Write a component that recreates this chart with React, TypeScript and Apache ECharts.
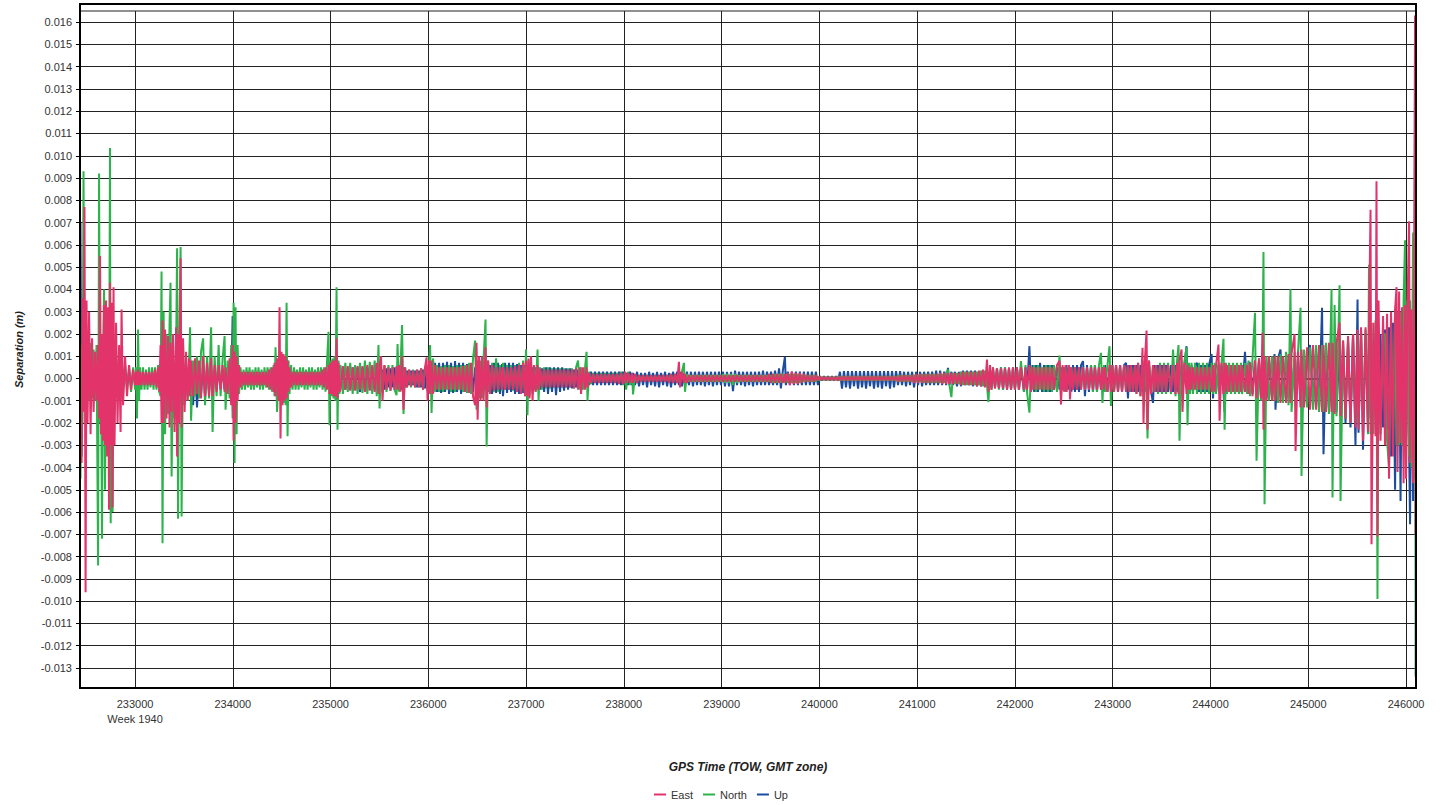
import React, { useEffect, useRef } from "react";
import * as echarts from "echarts";

// Epoch rows: [GPS time of week (s), East (mm), North (mm), Up (mm)]
const START_BURST: number[][] = [
  [232442, 1.5, -4.5, 7.0], [232453, -3.8, 1.0, -3.5], [232463, 3.6, -2.0, 1.5], [232473, -1.5, 9.3, -0.5],
  [232483, 7.7, -1.0, 0.8], [232494, -9.6, 1.5, -0.6], [232504, 3.5, -0.8, 0.5], [232514, -2.0, 1.2, -0.8],
  [232530, 3.0, -1.0, 0.6], [232545, -2.5, 1.6, -0.7], [232560, 1.8, -0.9, 0.5], [232576, -1.5, 1.3, -0.5],
  [232591, 1.2, -1.0, 0.9], [232606, -1.0, 1.5, -0.6], [232622, 1.5, -8.4, 0.4], [232632, -1.8, 9.2, -0.8],
  [232642, 5.5, -2.0, 0.6], [232652, -2.5, 1.0, -0.5], [232662, 2.0, -7.2, 1.0], [232673, -2.8, 1.2, -0.8],
  [232683, 3.3, 4.0, 0.6], [232693, -3.0, -5.0, -1.0], [232703, 3.5, 1.5, 2.2], [232714, -3.5, -1.5, -1.0],
  [232724, 3.2, 2.0, 0.8], [232734, -5.9, -2.0, -1.2], [232744, 4.3, 10.35, 0.9], [232751, -3.0, -6.5, -0.9],
  [232759, 3.4, 1.0, 0.7], [232770, -5.8, -6.0, -1.0], [232780, 4.1, 1.0, 0.8], [232790, -3.0, -1.2, -0.6],
  [232806, 2.5, 1.2, 0.6], [232821, -2.0, -0.9, -0.5], [232837, 1.5, 1.0, 0.5], [232852, -2.4, -0.8, -0.4],
  [232862, 3.1, 0.9, 0.4], [232877, -1.2, -0.7, -0.4], [232898, 1.0, 0.6, 0.3], [232918, -0.8, -0.5, -0.3],
  [232939, 0.6, 0.5, 0.3], [232959, -0.5, -0.6, -0.3], [232980, 0.4, 0.5, 0.2],
];

const QUIET_1: number[][] = [
  [233000, -0.3, -0.5, -0.2], [233010, 0.3, 0.5, 0.3], [233020, -0.3, -1.8, -0.2], [233031, 0.4, 2.2, 0.2],
  [233041, -0.3, -1.0, -0.2], [233051, 0.3, 0.5, 0.3], [233066, -0.3, -0.5, -0.3], [233081, 0.3, 0.5, 0.2],
  [233097, -0.3, -0.5, -0.2], [233112, 0.3, 0.4, 0.3], [233128, -0.3, -0.5, -0.2], [233143, 0.3, 0.5, 0.2],
  [233158, -0.3, -0.4, -0.3], [233174, 0.3, 0.5, 0.2], [233189, -0.3, -0.5, -0.2], [233204, 0.4, 0.5, 0.3],
  [233220, -0.4, -0.5, -0.2], [233235, 0.5, 0.6, 0.3], [233248, -0.6, -0.6, -0.3],
];

const BURST_2: number[][] = [
  [233261, 1.5, -0.8, 0.4], [233271, -2.0, 4.8, -0.6], [233281, 2.6, -7.4, 0.8], [233292, -2.0, 3.0, -0.7],
  [233307, 2.2, -2.5, 0.9], [233322, -1.8, 2.0, -0.8], [233338, 1.9, -1.6, 0.7], [233353, -2.2, 2.5, -1.0],
  [233363, 1.6, 4.3, 1.6], [233374, -1.5, -4.4, -0.8], [233389, 2.0, 1.5, 0.7], [233404, -2.4, -1.8, -0.9],
  [233420, 2.3, 1.2, 1.0], [233430, -3.5, 5.85, -0.9], [233440, 2.0, -6.3, 0.8], [233450, -2.0, 1.0, -1.0],
  [233466, 5.4, 5.9, 0.6], [233476, -2.2, -6.2, -0.8], [233491, 1.8, 1.5, 0.7], [233507, -1.5, -1.2, -1.0],
  [233522, 1.2, 0.9, 0.6], [233537, -1.0, -1.0, -0.8], [233553, 0.9, 0.8, 0.5], [233563, -0.8, 2.3, -0.6],
  [233573, 0.8, -1.9, 0.5], [233594, -0.8, 0.8, -1.2], [233614, 0.9, -0.8, 0.6], [233634, -0.7, 1.0, -1.3],
  [233655, 0.8, -0.9, 0.5], [233675, -0.9, 1.2, -0.7], [233696, 1.0, 1.8, 0.6], [233716, -0.8, -1.2, -0.9],
  [233737, 0.7, 1.0, 0.5], [233757, -0.8, -0.9, -0.6], [233778, 0.9, 2.3, 0.5], [233793, -0.8, -2.4, -0.6],
  [233814, 0.6, 1.0, 0.4], [233834, -0.6, -0.8, -0.5], [233855, 0.6, 1.5, 0.4], [233875, -0.5, -0.8, -0.4],
  [233896, 0.6, 0.9, 0.4], [233916, -0.6, 1.9, -0.5], [233926, 0.5, -1.4, 0.3], [233947, -0.7, 0.8, -0.5],
  [233967, 0.9, -0.9, 0.6], [233983, -1.2, 1.5, -0.8], [233998, 1.5, -1.8, 2.8], [234008, -2.8, 3.4, -1.0],
  [234018, 1.2, -3.8, 1.2], [234028, -2.0, 3.2, -0.8], [234039, 1.0, -2.5, 0.7], [234049, -1.0, 1.5, -0.5],
  [234064, 0.6, -0.7, 0.4],
];

const QUIET_2: number[][] = [
  [234079, -0.4, 0.5, -0.2], [234094, 0.3, -0.5, 0.2], [234110, -0.3, 0.4, -0.3], [234125, 0.3, -0.5, 0.2],
  [234140, -0.3, 0.5, -0.2], [234156, 0.3, -0.4, 0.3], [234171, -0.3, 0.5, -0.2], [234186, 0.3, -0.5, 0.2],
  [234202, -0.3, 0.4, -0.3], [234217, 0.3, -0.5, 0.2], [234232, -0.3, 0.5, -0.2], [234248, 0.3, -0.4, 0.3],
  [234263, -0.3, 0.5, -0.2], [234278, 0.3, -0.5, 0.2], [234294, -0.3, 0.4, -0.3], [234309, 0.3, -0.5, 0.2],
  [234324, -0.3, 0.5, -0.2], [234340, 0.3, -0.4, 0.3], [234355, -0.4, 0.5, -0.2], [234370, 0.4, -0.5, 0.2],
  [234386, -0.5, 0.5, -0.3], [234401, 0.5, -0.6, 0.3], [234417, -0.6, 0.6, -0.3], [234427, 0.7, -0.8, 0.3],
  [234437, -0.8, 1.4, -0.3], [234453, 0.9, -1.5, 0.4], [234468, -1.0, 0.8, -0.4], [234478, 3.2, -0.8, 0.5],
  [234488, -2.7, 0.9, -0.5], [234498, 1.2, -1.0, 0.4], [234509, -1.2, 1.0, -0.6], [234519, 1.1, -1.1, 0.5],
  [234529, -1.0, 1.0, -0.5], [234540, 1.0, -1.2, 0.5], [234550, -0.9, 3.4, -0.4], [234560, 0.8, -2.6, 0.4],
  [234570, -0.6, 0.8, -0.3], [234580, 0.5, -0.7, 0.3], [234596, -0.4, 0.6, -0.2], [234611, 0.3, -0.5, 0.2],
  [234627, -0.3, 0.5, -0.2], [234642, 0.3, -0.5, 0.3], [234657, -0.3, 0.4, -0.2], [234673, 0.3, -0.5, 0.2],
  [234688, -0.3, 0.5, -0.3], [234703, 0.3, -0.4, 0.2], [234719, -0.3, 0.5, -0.2], [234734, 0.3, -0.5, 0.3],
  [234749, -0.3, 0.4, -0.2], [234765, 0.3, -0.5, 0.2], [234780, -0.3, 0.5, -0.3], [234795, 0.3, -0.4, 0.2],
  [234810, -0.3, 0.5, -0.2], [234826, 0.3, -0.5, 0.3], [234841, -0.3, 0.4, -0.2], [234857, 0.3, -0.5, 0.2],
  [234872, -0.3, 0.5, -0.3], [234887, 0.3, -0.4, 0.2], [234902, -0.3, 0.5, -0.2], [234918, 0.4, -0.5, 0.3],
  [234933, -0.4, 0.5, -0.3], [234948, 0.5, -0.6, 0.3], [234963, -0.5, 0.7, -0.3], [234979, 0.6, 2.1, 0.3],
  [234989, -0.7, -2.1, -0.4], [234999, 0.7, 0.8, 0.4], [235009, -0.7, -0.8, -0.4], [235020, 0.8, 0.9, 0.4],
  [235030, -0.8, -0.9, -0.4], [235040, 0.8, 1.0, 0.5], [235050, -0.8, -1.0, -0.5], [235061, 1.8, 4.1, 0.5],
  [235071, -0.9, -2.3, -0.4], [235081, 0.7, 0.8, 0.4], [235091, -0.6, -0.7, -0.3],
];

const MIDDLE_1: number[][] = [
  [235101, -0.5, 0.6, -0.4], [235126, 0.55, -0.7, 0.5], [235151, -0.5, 0.7, -0.5], [235176, 0.55, -0.6, 0.45],
  [235201, -0.55, 0.7, -0.5], [235226, 0.5, -0.7, 0.5], [235251, -0.55, 0.6, -0.45], [235276, 0.55, -0.7, 0.5],
  [235301, -0.5, 0.7, -0.6], [235326, 0.55, -0.65, 0.5], [235351, -0.6, 0.8, -0.45], [235376, 0.6, -0.7, 0.5],
  [235401, -0.55, 0.75, -0.5], [235426, 0.6, -0.7, 0.45], [235451, -0.6, 0.8, -0.5], [235472, 0.7, -0.8, 0.45],
  [235490, -0.7, 1.5, -0.4], [235501, 0.6, -1.35, 0.5], [235516, 1.0, 0.6, -0.5], [235531, -1.0, -0.6, 0.4],
  [235551, 0.6, 0.6, -0.5], [235572, -0.5, -0.6, 0.45], [235592, 0.5, 0.6, -0.4], [235613, -0.55, -0.55, 0.45],
  [235633, 0.5, 0.6, -0.4], [235654, -0.5, -0.5, 0.5], [235675, 0.55, -0.75, -0.45], [235685, -0.5, 1.55, 0.4],
  [235700, 0.6, -0.6, -0.5], [235716, -0.6, 0.6, 0.6], [235731, 1.0, 2.4, -0.5], [235746, -1.4, -1.6, 0.5],
  [235762, 0.5, 0.5, -0.4], [235782, -0.4, -0.4, 0.35], [235803, 0.4, 0.4, -0.3], [235823, -0.35, -0.4, 0.35],
  [235844, 0.35, 0.4, -0.3], [235864, -0.4, -0.4, 0.35], [235885, 0.4, 0.4, -0.4], [235905, -0.4, -0.4, 0.35],
  [235926, 0.45, 0.45, -0.4], [235946, -0.5, -0.5, 0.4], [235966, 0.5, 0.5, -0.45], [235982, 0.95, 0.6, 0.5],
  [235992, -1.0, -0.6, -0.5], [236008, 0.8, 0.7, 0.55], [236018, -0.7, 1.5, -0.6], [236033, 0.8, -1.55, 0.6],
  [236048, -0.7, 0.9, -0.65], [236069, 0.6, -0.6, 0.7], [236089, -0.5, 0.6, -0.6], [236110, 0.5, -0.6, 0.7],
  [236130, -0.5, 0.55, -0.65], [236150, 0.5, -0.6, 0.7], [236171, -0.5, 0.6, -0.6], [236191, 0.5, -0.5, 0.75],
  [236212, -0.5, 0.6, -0.7], [236232, 0.5, -0.6, 0.7], [236253, -0.5, 0.55, -0.65], [236273, 0.5, -0.6, 0.78],
  [236294, -0.5, 0.6, -0.6], [236314, 0.5, -0.5, 0.7], [236335, -0.5, 0.6, -0.7], [236355, 0.55, -0.6, 0.7],
  [236376, -0.6, 0.6, -0.6], [236396, 0.6, -0.65, 0.65], [236417, -0.65, 0.7, -0.6], [236437, 0.7, -0.7, 0.6],
  [236457, -0.8, 0.9, -0.6], [236478, -1.2, 1.7, 0.5], [236493, 1.6, -1.4, -0.5], [236504, -1.85, 0.8, 0.5],
  [236519, 1.0, -0.9, -0.6], [236534, -1.0, 0.8, 0.6], [236549, 1.0, -0.9, -0.5], [236565, -1.0, 0.9, 0.5],
  [236585, 1.4, 2.65, -0.5], [236596, -1.3, -3.05, 0.5], [236611, 0.8, 0.8, -0.6], [236631, -0.7, -0.6, 0.6],
  [236652, 0.6, 0.7, -0.7], [236672, -0.55, -0.6, 0.7], [236693, 0.5, 0.9, -0.65], [236713, -0.5, -0.6, 0.7],
  [236733, 0.5, 0.6, -0.7], [236754, -0.5, -0.55, 0.65], [236764, 0.5, 0.7, -0.8], [236785, -0.5, -0.5, 0.7],
  [236805, 0.5, 0.6, -0.65], [236825, -0.5, -0.5, 0.7], [236846, 0.5, 0.6, -0.6], [236866, -0.5, -0.55, 0.7],
  [236887, 0.55, 0.6, -0.7], [236907, -0.6, -0.6, 0.65], [236928, 0.6, 0.7, -0.7], [236948, -0.7, -0.7, 0.6],
  [236969, 0.7, 0.8, -0.65], [236989, -0.8, -0.8, 0.6], [236999, 0.8, 1.3, -0.6], [237014, -0.8, -1.65, 0.5],
  [237025, 0.9, 0.8, -0.5], [237035, -0.9, -0.8, 0.55], [237050, 1.0, 0.7, -0.5], [237066, -1.0, -0.7, 0.5],
  [237081, 0.6, 0.6, -0.5], [237097, -0.6, -0.6, 0.5], [237117, 0.6, 1.3, -0.5], [237127, -0.5, -1.0, 0.5],
  [237143, 0.45, 0.5, -0.5], [237163, -0.4, -0.5, 0.45], [237184, 0.4, 0.5, -0.6], [237204, -0.4, -0.45, 0.5],
  [237224, 0.4, 0.5, -0.7], [237245, -0.4, -0.45, 0.5], [237265, 0.4, 0.45, -0.6], [237286, -0.4, -0.4, 0.5],
  [237306, 0.4, 0.45, -0.75], [237327, -0.4, -0.4, 0.5], [237347, 0.4, 0.45, -0.6], [237368, -0.4, -0.4, 0.5],
  [237388, 0.4, 0.45, -0.55], [237409, -0.4, -0.4, 0.45], [237429, 0.4, 0.45, -0.5], [237450, -0.4, -0.4, 0.45],
  [237470, 0.4, 0.45, -0.45], [237490, -0.45, -0.45, 0.4], [237511, 0.45, 0.5, -0.4], [237531, -0.5, 0.8, 0.4],
  [237552, 0.5, -0.5, -0.4], [237562, -0.7, 0.5, 0.4], [237582, 0.5, -0.5, -0.4], [237603, -0.5, 0.5, 0.35],
  [237618, 0.5, 1.2, -0.3], [237628, -0.4, -1.0, 0.3], [237644, 0.25, 0.3, -0.3], [237664, -0.2, -0.25, 0.3],
  [237685, 0.2, 0.25, -0.3], [237705, -0.2, -0.2, 0.3], [237726, 0.2, 0.25, -0.3], [237746, -0.2, -0.2, 0.3],
  [237767, 0.2, 0.25, -0.3], [237787, -0.2, -0.2, 0.3], [237807, 0.2, 0.25, -0.3], [237828, -0.2, -0.2, 0.3],
  [237848, 0.2, 0.25, -0.3], [237869, -0.2, -0.2, 0.3], [237889, 0.2, 0.25, -0.3], [237910, -0.2, -0.2, 0.3],
  [237930, 0.2, 0.25, -0.3], [237950, -0.25, -0.2, 0.3],
];

const CENTRE_CALM: number[][] = [
  [237971, 0.25, 0.3, -0.3], [237991, -0.25, -0.3, 0.3], [238012, 0.3, 0.3, -0.3], [238023, -0.2, -0.5, 0.25],
  [238042, 0.25, 0.3, -0.3], [238063, -0.2, -0.3, 0.3], [238083, 0.25, 0.2, -0.3], [238094, -0.2, -0.72, 0.25],
  [238114, 0.2, 0.2, -0.3], [238135, -0.2, -0.2, 0.3], [238155, 0.15, 0.15, -0.35], [238176, -0.15, -0.15, 0.25],
  [238196, 0.15, 0.15, -0.3], [238217, -0.15, -0.15, 0.25], [238237, 0.15, 0.15, -0.4], [238258, -0.15, -0.15, 0.3],
  [238278, 0.15, 0.15, -0.3], [238298, -0.15, -0.15, 0.25], [238319, 0.15, 0.15, -0.35], [238339, -0.15, -0.15, 0.3],
  [238360, 0.15, 0.15, -0.4], [238380, -0.15, -0.15, 0.25], [238401, 0.15, 0.15, -0.3], [238421, -0.15, -0.15, 0.3],
  [238442, 0.15, 0.15, -0.35], [238462, -0.2, -0.15, 0.25], [238482, 0.2, 0.2, -0.4], [238503, -0.2, -0.2, 0.3],
  [238523, 0.2, 0.2, -0.3], [238544, -0.2, -0.2, 0.3], [238563, 0.75, 0.2, -0.3], [238574, -0.4, -0.2, 0.3],
  [238594, 0.3, 0.3, -0.35], [238614, -0.2, 0.7, 0.25], [238625, 0.2, -0.6, -0.3], [238645, -0.2, 0.2, 0.3],
  [238666, 0.15, -0.15, -0.3], [238686, -0.15, 0.15, 0.3], [238707, 0.15, -0.15, -0.35], [238727, -0.15, 0.15, 0.3],
  [238748, 0.15, -0.15, -0.3], [238768, -0.15, 0.15, 0.3], [238788, 0.15, -0.15, -0.3], [238809, -0.15, 0.15, 0.3],
  [238829, 0.15, -0.15, -0.35], [238850, -0.15, 0.15, 0.3], [238870, 0.15, -0.15, -0.3], [238891, -0.15, 0.15, 0.3],
  [238911, 0.15, -0.15, -0.35], [238932, -0.15, 0.15, 0.3], [238952, 0.15, -0.15, -0.3], [238973, -0.15, 0.15, 0.3],
  [238993, 0.15, -0.15, -0.3], [239014, -0.15, 0.2, 0.3], [239034, 0.15, -0.2, -0.35], [239055, -0.15, 0.2, 0.3],
  [239075, 0.15, -0.2, -0.35], [239096, -0.15, 0.2, 0.3], [239116, 0.15, -0.3, -0.57], [239137, -0.15, 0.2, 0.35],
  [239157, 0.15, -0.2, -0.3], [239178, -0.15, 0.15, 0.3], [239198, 0.15, -0.15, -0.3], [239219, -0.15, 0.15, 0.3],
  [239239, 0.15, -0.15, -0.35], [239259, -0.15, 0.15, 0.3], [239280, 0.15, -0.15, -0.3], [239300, -0.15, 0.15, 0.3],
  [239321, 0.15, -0.15, -0.35], [239341, -0.15, 0.15, 0.3], [239362, 0.15, -0.15, -0.3], [239382, -0.15, 0.15, 0.3],
  [239403, 0.15, -0.15, -0.3], [239423, -0.15, 0.15, 0.35], [239444, 0.15, -0.15, -0.3], [239464, -0.15, 0.15, 0.3],
  [239485, 0.2, -0.15, -0.3], [239505, -0.2, 0.15, 0.3], [239526, 0.2, -0.2, -0.3], [239546, -0.2, 0.2, 0.35],
  [239567, 0.2, -0.2, -0.3], [239587, -0.2, 0.2, 0.45], [239606, 0.2, -0.2, -0.45], [239626, -0.2, 0.2, 0.35],
  [239647, 0.2, -0.2, 0.97], [239657, -0.2, 0.2, -0.3], [239677, 0.25, -0.2, 0.3], [239698, -0.3, 0.2, -0.3],
  [239718, 0.3, -0.2, 0.3], [239739, -0.25, 0.2, -0.3], [239759, 0.25, -0.2, 0.3], [239780, -0.25, 0.2, -0.3],
  [239800, 0.25, -0.2, 0.3], [239821, -0.2, 0.15, -0.3], [239841, 0.2, -0.15, 0.3], [239862, -0.15, 0.15, -0.3],
  [239882, 0.15, -0.15, 0.3], [239903, -0.15, 0.15, -0.3], [239923, 0.15, -0.15, 0.3], [239944, -0.15, 0.15, -0.3],
  [239964, 0.15, -0.15, 0.3], [239985, -0.1, 0.1, -0.3], [240005, 0.1, -0.1, 0.1], [240026, -0.08, 0.08, -0.1],
  [240046, 0.08, -0.08, 0.1], [240067, -0.08, 0.08, -0.1], [240087, 0.08, -0.08, 0.1], [240108, -0.08, 0.08, -0.1],
  [240128, 0.08, -0.08, 0.1], [240149, -0.08, 0.08, -0.1], [240169, 0.08, -0.08, 0.1], [240190, -0.1, 0.1, -0.1],
  [240210, 0.1, -0.1, 0.3], [240231, -0.1, 0.1, -0.46], [240251, 0.1, -0.1, 0.33], [240272, -0.1, 0.1, -0.4],
  [240292, 0.1, -0.1, 0.33], [240313, -0.1, 0.1, -0.46], [240333, 0.1, -0.1, 0.33], [240354, -0.1, 0.1, -0.35],
  [240374, 0.1, -0.1, 0.33], [240395, -0.1, 0.1, -0.46], [240415, 0.1, -0.1, 0.33], [240436, -0.1, 0.1, -0.4],
  [240456, 0.1, -0.1, 0.33], [240477, -0.1, 0.1, -0.46], [240497, 0.1, -0.1, 0.33], [240517, -0.1, 0.1, -0.35],
  [240538, 0.1, -0.1, 0.33], [240558, -0.1, 0.1, -0.46], [240579, 0.1, -0.1, 0.33], [240599, -0.1, 0.1, -0.4],
  [240620, 0.1, -0.1, 0.33], [240640, -0.1, 0.1, -0.46], [240661, 0.1, -0.1, 0.33], [240681, -0.1, 0.1, -0.35],
  [240702, 0.1, -0.1, 0.33], [240722, -0.1, 0.1, -0.46], [240743, 0.1, -0.1, 0.33], [240763, -0.1, 0.1, -0.4],
  [240784, 0.1, -0.1, 0.33], [240804, -0.15, 0.15, -0.3], [240825, 0.15, -0.15, 0.33], [240845, -0.15, 0.15, -0.3],
  [240866, 0.15, -0.15, 0.3], [240886, -0.15, 0.15, -0.35], [240907, 0.15, -0.15, 0.3], [240927, -0.15, 0.15, -0.3],
  [240948, 0.15, -0.15, 0.3], [240968, -0.2, 0.15, -0.4], [240989, 0.2, -0.15, 0.3], [241009, -0.2, 0.15, -0.3],
  [241030, 0.2, -0.15, 0.3], [241050, -0.2, 0.2, -0.35], [241071, 0.2, -0.2, 0.3], [241091, -0.2, 0.2, -0.3],
  [241112, 0.2, -0.2, 0.3], [241132, -0.2, 0.2, -0.3], [241153, 0.2, -0.2, 0.3], [241173, -0.2, 0.2, -0.3],
  [241194, 0.2, -0.2, 0.35], [241214, -0.2, 0.2, -0.3], [241235, 0.25, -0.2, 0.35], [241255, -0.25, 0.2, -0.3],
  [241276, 0.25, -0.2, 0.3], [241296, -0.25, 0.25, -0.3], [241315, 0.25, 0.4, 0.48], [241330, -0.25, -0.3, -0.3],
  [241350, 0.25, -0.84, 0.3], [241366, -0.25, 0.25, -0.3], [241386, 0.25, -0.25, 0.3], [241407, -0.25, 0.25, -0.35],
  [241427, 0.25, -0.25, 0.3], [241448, -0.3, 0.3, -0.35], [241468, 0.3, -0.3, 0.35], [241489, -0.3, 0.3, -0.3],
  [241509, 0.3, -0.3, 0.35], [241530, -0.3, 0.3, -0.3], [241550, 0.3, -0.3, 0.35], [241571, -0.3, 0.3, -0.35],
  [241591, 0.3, -0.3, 0.35], [241612, -0.35, 0.3, -0.35], [241632, 0.35, -0.3, 0.3], [241653, -0.35, 0.35, -0.35],
  [241673, 0.4, -0.35, 0.3], [241694, -0.4, 0.35, -0.3], [241714, 0.85, -0.3, 0.3], [241729, -0.6, -1.06, -0.35],
  [241745, 0.6, 0.4, 0.35], [241760, -0.5, -0.5, -0.4], [241775, 0.5, 0.5, 0.4], [241796, -0.45, -0.45, -0.4],
  [241816, 0.45, 0.45, 0.45], [241836, -0.45, -0.5, -0.45],
];

const MIDDLE_2: number[][] = [
  [241857, 0.45, 0.5, 0.5], [241878, -0.45, -0.5, -0.5], [241898, 0.45, 0.5, 0.5], [241919, -0.5, -0.45, -0.5],
  [241939, 0.5, 0.45, 0.45], [241960, -0.5, -0.5, -0.5], [241980, 0.5, 0.5, 0.5], [242000, -0.5, -0.5, -0.5],
  [242020, 0.5, 0.5, 0.5], [242041, -0.5, -0.5, -0.5], [242061, 0.5, 0.78, 0.5], [242092, -0.5, -0.6, -0.6],
  [242108, 0.5, 0.6, 0.5], [242123, -0.5, -0.6, -0.6], [242148, 0.6, -1.54, 1.45], [242164, -0.6, 0.5, -0.6],
  [242180, 0.5, -0.5, 0.6], [242195, -0.5, 0.6, -0.6], [242216, 0.5, -0.6, 0.6], [242236, -0.5, 0.6, -0.6],
  [242257, 0.5, -0.5, 0.7], [242277, -0.5, 0.5, -0.6], [242297, 0.5, -0.6, 0.6], [242318, -0.5, 0.6, -0.6],
  [242338, 0.5, -0.6, 0.6], [242358, -0.5, 0.6, -0.6], [242379, 0.5, -0.6, 0.6], [242399, -0.5, 0.6, -0.5],
  [242430, 0.6, -0.6, 0.5], [242456, 0.8, 1.03, -0.5], [242471, -1.17, -0.8, 0.5], [242487, 0.6, 0.5, -0.5],
  [242502, -0.6, -0.5, 0.5], [242517, 0.6, 0.5, -0.6], [242527, -0.6, -0.6, 0.6], [242553, 0.6, 0.5, -0.5],
  [242563, -0.94, -0.5, 0.5], [242578, 0.5, 0.5, -0.6], [242594, -0.5, -0.5, 0.6], [242614, 0.5, 0.5, -0.6],
  [242635, -0.5, -0.5, 0.6], [242655, 0.5, 0.5, -0.6], [242676, -0.5, -0.5, 0.6], [242696, 0.5, 0.5, 0.78],
  [242716, -0.5, -0.5, -0.8], [242737, 0.5, 0.5, 0.6], [242757, -0.5, -0.5, -0.6], [242778, 0.5, 0.6, 0.6],
  [242798, -0.5, -0.6, -0.6], [242818, 0.5, 0.6, 0.6], [242839, -0.5, -0.6, -0.6], [242859, 0.5, 0.6, 0.5],
  [242880, -0.5, 1.15, -0.5], [242895, 0.5, -1.1, 0.5], [242910, -0.5, 0.6, -0.6], [242921, 0.5, -0.6, 0.6],
  [242946, -0.6, 0.6, -0.6], [242967, 0.6, 1.45, 0.5], [242982, -0.6, -1.24, -0.5], [242997, 0.6, 0.6, 0.6],
  [243013, -0.6, -0.6, -0.6], [243034, 0.6, 0.6, 0.6], [243054, -0.6, -0.6, -0.6], [243075, 0.6, 0.6, 0.6],
  [243095, -0.6, -0.6, -0.6], [243116, 0.6, 0.6, 0.6], [243136, -0.6, -0.6, 0.7], [243156, 0.6, 0.6, -0.9],
  [243172, -0.6, -0.6, 0.6], [243187, 0.6, 0.6, -0.6], [243207, -0.6, -0.6, 0.6], [243228, 0.6, 0.6, -0.6],
  [243243, -0.7, -0.7, 0.6], [243259, 0.7, 0.7, -0.6], [243284, -0.8, -0.8, 0.6], [243305, 1.38, 0.8, -0.6],
  [243315, -2.04, -0.8, 0.6], [243330, 0.9, 0.8, -0.6], [243346, 2.15, -0.8, 0.6], [243356, -2.3, -2.7, -0.6],
  [243371, 0.8, 0.8, 0.6], [243392, -0.7, -0.7, -0.6], [243412, 0.6, 0.6, -1.1], [243427, -0.6, -0.6, 0.6],
  [243443, 0.6, 0.6, -0.6], [243463, -0.6, -0.7, 0.6], [243484, 0.6, 0.7, -0.6], [243504, -0.6, -0.7, 0.6],
  [243525, 0.6, 0.7, -0.6], [243545, -0.6, -0.7, 0.6], [243566, 0.6, 0.7, -0.6], [243596, -0.6, -0.7, 0.6],
  [243617, 0.6, 1.3, -0.6], [243642, -0.7, -0.8, 0.6], [243658, 0.7, 0.8, -0.6], [243673, -0.7, 1.5, 0.6],
  [243683, 0.8, -2.8, -0.6], [243704, 1.3, 0.8, 0.6], [243714, -1.5, -0.8, -0.6], [243734, 0.7, 0.8, 0.6],
  [243755, -0.7, 1.4, 1.45], [243765, 0.6, -2.1, -0.6], [243780, -0.5, 0.7, 0.6], [243791, 0.5, -0.7, -0.6],
  [243806, -0.5, 0.7, 0.6], [243821, 0.5, -0.7, -0.6], [243842, -0.5, 0.7, 0.6], [243862, 0.5, -0.7, 0.7],
  [243883, -0.5, 0.7, -0.6], [243903, 0.5, -0.7, 0.6], [243924, -0.5, 0.7, -0.6], [243944, 0.5, -0.7, 0.6],
  [243964, -0.5, 0.7, -0.6], [243985, 0.5, -0.7, 0.6], [244011, -0.6, 0.7, 1.1], [244026, 0.6, -0.7, -0.9],
  [244042, -0.6, 0.7, 0.6], [244057, 0.6, -0.7, -0.6], [244082, 1.52, 0.7, 0.6], [244093, -1.9, -0.7, -0.6],
  [244113, 0.7, 0.7, 0.6], [244133, -0.7, 1.78, -0.6], [244144, 0.7, -2.3, -1.5], [244159, -0.6, 0.7, 0.6],
  [244169, 0.6, -0.7, -0.6], [244190, -0.6, 0.7, 0.6], [244210, 0.6, -0.7, -0.6], [244231, -0.6, 0.7, 0.6],
  [244251, 0.6, -0.7, -0.6], [244272, -0.6, 0.7, 0.6], [244292, 0.6, -0.7, -0.6], [244312, -0.6, 0.7, 0.6],
  [244323, 0.6, -0.7, -0.6], [244353, -0.6, 0.7, 1.2], [244374, 0.6, -0.7, -0.7], [244389, -0.7, 0.8, 0.7],
];

const END_BURST: number[][] = [
  [244404, 0.7, -0.8, 0.7], [244430, -0.8, 0.9, -0.7], [244455, 0.8, 2.95, 0.8], [244471, -0.9, -3.7, -0.7],
  [244496, 0.9, 0.9, 0.8], [244517, -0.9, -1.0, -0.8], [244532, 2.05, 1.0, 0.7], [244542, -2.3, 5.68, -0.8],
  [244553, 1.0, -5.65, 0.8], [244573, -1.0, 1.0, -0.9], [244599, 1.0, -1.0, 0.8], [244630, -1.0, 1.0, -0.9],
  [244655, 1.0, -1.0, 1.1], [244665, -1.0, 1.0, -1.4], [244691, 1.0, -1.1, 0.9], [244716, -1.1, 1.1, 1.3],
  [244742, 1.0, -1.1, -0.9], [244773, -1.1, 1.2, 0.9], [244798, 1.1, -1.2, -0.9], [244818, -1.1, 4.0, 0.9],
  [244829, 1.1, -1.5, -0.9], [244860, 2.0, 1.2, 0.9], [244870, -3.26, -1.2, -1.0], [244895, 1.2, 1.2, 1.0],
  [244921, -1.3, 3.17, -1.0], [244931, 1.3, -4.38, 1.0], [244957, -1.3, 1.3, -1.1], [244988, 1.4, -1.3, 1.1],
  [245018, -1.4, 1.4, 1.5], [245049, 1.5, -1.4, -1.2], [245080, -1.4, 1.5, 1.2], [245110, 1.5, -1.5, -1.3],
  [245141, -1.5, 1.5, 3.17], [245156, 1.5, -1.5, -3.4], [245182, -1.5, 1.6, 1.3], [245212, 1.6, -1.6, -1.4],
  [245238, -1.5, 4.0, 1.4], [245248, 1.6, -5.35, -1.4], [245269, -1.6, 3.3, 1.5], [245289, 1.6, -1.7, -1.5],
  [245320, 2.5, 4.18, 1.5], [245330, -1.7, -5.5, -1.6], [245356, 1.7, 1.7, 1.6], [245381, -1.8, -1.8, -2.0],
  [245407, 1.9, 1.8, 1.7], [245432, -2.0, -1.9, -2.2], [245458, 2.0, 2.0, 2.0], [245483, -2.2, -2.0, -3.0],
  [245504, 2.2, 2.0, 3.55], [245514, -2.3, -2.1, -2.44], [245540, 2.3, 2.1, 2.2], [245560, -2.8, -2.2, -3.2],
  [245586, 2.3, 2.2, 2.0], [245611, -2.4, -2.5, -2.0], [245621, 2.4, 5.1, 1.8], [245637, 7.58, -2.5, -1.8],
  [245647, -7.45, 2.5, 1.8], [245667, 2.5, -2.5, -1.8], [245688, -2.6, 2.6, 1.9], [245698, 8.85, 2.0, -1.9],
  [245708, -7.1, -9.9, 1.9], [245719, 3.5, 2.0, -2.0], [245739, -2.8, -2.5, 2.0], [245765, 2.8, 2.0, -2.2],
  [245785, -3.0, 2.0, 2.2], [245806, 2.9, -2.8, -2.3], [245826, -4.5, -4.0, 2.3], [245847, 3.0, 2.3, -3.5],
  [245867, -3.5, -2.5, 2.5], [245888, 3.1, 3.0, -5.0], [245903, 4.1, -3.0, 2.5], [245913, -4.2, 3.0, -2.5],
  [245929, 3.9, -3.0, 2.6], [245944, -2.9, 3.0, -5.5], [245959, 3.2, -3.0, 2.6], [245975, -4.7, 3.5, -2.8],
  [245990, 3.3, 6.2, 2.8], [246000, -4.5, -4.4, -3.0], [246015, 3.3, 3.5, 3.0], [246031, 7.06, -3.5, -3.0],
  [246041, -3.8, 3.5, -6.55], [246056, 3.1, -4.0, 3.0], [246072, -4.7, 6.55, -5.5], [246082, 3.0, -4.5, 2.5],
  [246092, 16.3, 13.0, -3.0], [246098, -7.0, -13.4, 2.0],
];

const SEGMENTS = [START_BURST, QUIET_1, BURST_2, QUIET_2, MIDDLE_1, CENTRE_CALM, MIDDLE_2, END_BURST];

const SERIES_NAMES = ["East", "North", "Up"];
const SERIES_COLORS = ["#E2336B", "#2DB34B", "#1B4C9E"];

const X_TICKS = [233000, 234000, 235000, 236000, 237000, 238000, 239000, 240000, 241000, 242000, 243000, 244000, 245000, 246000];
const Y_TICKS = [
  -0.013, -0.012, -0.011, -0.01, -0.009, -0.008, -0.007, -0.006, -0.005, -0.004, -0.003, -0.002, -0.001, 0,
  0.001, 0.002, 0.003, 0.004, 0.005, 0.006, 0.007, 0.008, 0.009, 0.01, 0.011, 0.012, 0.013, 0.014, 0.015, 0.016,
];

const X_MIN = 232437;
const X_MAX = 246102;
const Y_MIN = -0.0139;
const Y_MAX = 0.0165;
const WEEK_TICK = 233000;
const WEEK_LABEL = "Week 1940";

const FONT = "'Liberation Sans', Arial, sans-serif";

export default function App() {
  const ref = useRef<HTMLDivElement>(null);

  useEffect(() => {
    if (!ref.current) return;
    const chart = echarts.init(ref.current, undefined, { renderer: "svg" });

    const rows = SEGMENTS.flat();
    const seriesData = SERIES_NAMES.map((_, k) => rows.map((r) => [r[0], r[k + 1] / 1000]));
    const zOrder = [5, 4, 3];

    chart.setOption({
      animation: false,
      backgroundColor: "#ffffff",
      textStyle: { fontFamily: FONT },
      grid: { left: 80, right: 26, top: 11, bottom: 117, containLabel: false },
      legend: {
        data: SERIES_NAMES,
        top: 784,
        left: "center",
        icon: "rect",
        itemWidth: 12,
        itemHeight: 2,
        itemGap: 10,
        textStyle: { fontSize: 11, color: "#333", fontFamily: FONT },
      },
      xAxis: {
        type: "value",
        min: X_MIN,
        max: X_MAX,
        name: "GPS Time (TOW, GMT zone)",
        nameLocation: "middle",
        nameGap: 73,
        nameTextStyle: { fontSize: 12, fontWeight: "bold", fontStyle: "italic", color: "#222", fontFamily: FONT },
        axisLine: { show: true, lineStyle: { color: "#000", width: 2 } },
        axisTick: { show: true, length: 4, customValues: X_TICKS, lineStyle: { color: "#000" } },
        axisLabel: {
          customValues: X_TICKS,
          fontSize: 11,
          color: "#333",
          margin: 8,
          lineHeight: 15,
          fontFamily: FONT,
          formatter: (v: number) => {
            const s = String(Math.round(v));
            return Math.round(v) === WEEK_TICK ? s + "\n" + WEEK_LABEL : s;
          },
        },
        splitLine: { show: true, lineStyle: { color: "#222", width: 1 } },
      },
      yAxis: {
        type: "value",
        min: Y_MIN,
        max: Y_MAX,
        name: "Separation (m)",
        nameLocation: "middle",
        nameGap: 56,
        nameTextStyle: { fontSize: 11, fontWeight: "bold", fontStyle: "italic", color: "#222", fontFamily: FONT },
        axisLine: { show: true, lineStyle: { color: "#000", width: 2 } },
        axisTick: { show: true, length: 4, customValues: Y_TICKS, lineStyle: { color: "#000" } },
        axisLabel: {
          customValues: Y_TICKS,
          fontSize: 11,
          color: "#333",
          margin: 8,
          fontFamily: FONT,
          formatter: (v: number) => (Math.abs(v) < 1e-9 ? 0 : v).toFixed(3),
        },
        splitLine: { show: true, lineStyle: { color: "#222", width: 1 } },
      },
      graphic: [
        {
          type: "line",
          shape: { x1: 80, y1: 11, x2: 1416, y2: 11 },
          style: { stroke: "#222", lineWidth: 1 },
          z: 100,
          silent: true,
        },
        {
          type: "rect",
          shape: { x: 80, y: 4, width: 1336, height: 684 },
          style: { fill: "none", stroke: "#000", lineWidth: 2 },
          z: 100,
          silent: true,
        },
      ],
      series: SERIES_NAMES.map((name, k) => ({
        name,
        type: "line",
        data: seriesData[k],
        showSymbol: false,
        symbol: "none",
        z: zOrder[k],
        lineStyle: { width: 2, color: SERIES_COLORS[k] },
        itemStyle: { color: SERIES_COLORS[k] },
        emphasis: { disabled: true },
        clip: true,
      })),
    });

    return () => chart.dispose();
  }, []);

  return <div ref={ref} style={{ position: "fixed", left: 0, top: 0, width: 1442, height: 805 }} />;
}
